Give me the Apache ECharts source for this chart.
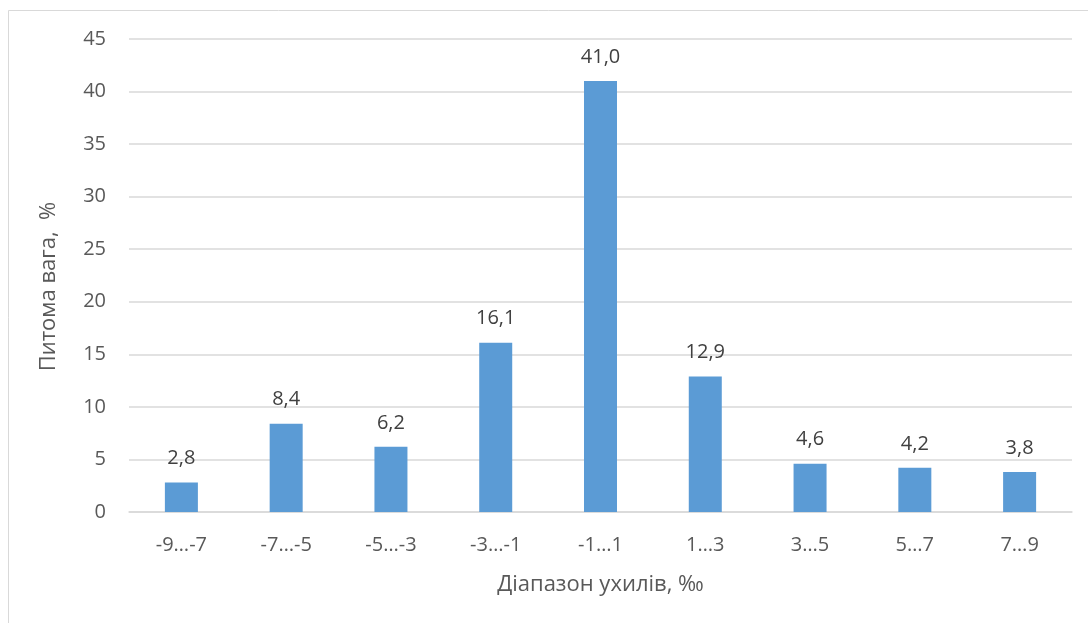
<!DOCTYPE html>
<html>
<head>
<meta charset="utf-8">
<script src="https://cdn.jsdelivr.net/npm/echarts@6/dist/echarts.min.js"></script>
<style>
  html, body { margin: 0; padding: 0; background: #ffffff; }
  #chart { width: 1088px; height: 623px; }
</style>
</head>
<body>
<div id="chart"></div>
<script>
// Deviation ranges (‰) and their share (%)
const categories = ['-9…-7', '-7…-5', '-5…-3', '-3…-1', '-1…1', '1…3', '3…5', '5…7', '7…9'];
const shares = [2.8, 8.4, 6.2, 16.1, 41.0, 12.9, 4.6, 4.2, 3.8];
const yTicks = [0, 5, 10, 15, 20, 25, 30, 35, 40, 45];

const FONT = 'Open Sans';
const chart = echarts.init(document.getElementById('chart'));

chart.setOption({
  backgroundColor: '#ffffff',
  animation: false,
  graphic: [{
    type: 'rect',
    shape: { x: 8.5, y: 10.5, width: 1200, height: 700 },
    style: { fill: 'none', stroke: '#d9d9d9', lineWidth: 1 },
    silent: true
  }],
  grid: { left: 129, right: 16, top: 39, bottom: 111, containLabel: false },
  xAxis: {
    type: 'category',
    data: categories,
    name: 'Діапазон ухилів, ‰',
    nameLocation: 'middle',
    nameGap: 62,
    nameTextStyle: { fontFamily: FONT, fontSize: 22, color: '#595959' },
    axisLine: { show: true, lineStyle: { color: '#d9d9d9', width: 1.5 } },
    axisTick: { show: false },
    axisLabel: { fontFamily: FONT, fontSize: 20, color: '#595959', margin: 23 }
  },
  yAxis: {
    type: 'value',
    min: yTicks[0],
    max: yTicks[yTicks.length - 1],
    interval: yTicks[1] - yTicks[0],
    name: 'Питома вага,  %',
    nameLocation: 'middle',
    nameGap: 69,
    nameTextStyle: { fontFamily: FONT, fontSize: 22, color: '#595959', padding: [0, 22, 0, 0] },
    axisLine: { show: false },
    axisTick: { show: false },
    axisLabel: { fontFamily: FONT, fontSize: 20, color: '#595959', margin: 23 },
    splitLine: { lineStyle: { color: '#d9d9d9', width: 1.5 } }
  },
  series: [{
    type: 'bar',
    data: shares,
    barWidth: '31.5%',
    itemStyle: { color: '#5b9bd5' },
    label: {
      show: true,
      position: 'top',
      distance: 14,
      fontFamily: FONT,
      fontSize: 20,
      color: '#404040',
      formatter: p => p.value.toFixed(1).replace('.', ',')
    }
  }]
});
</script>
</body>
</html>
